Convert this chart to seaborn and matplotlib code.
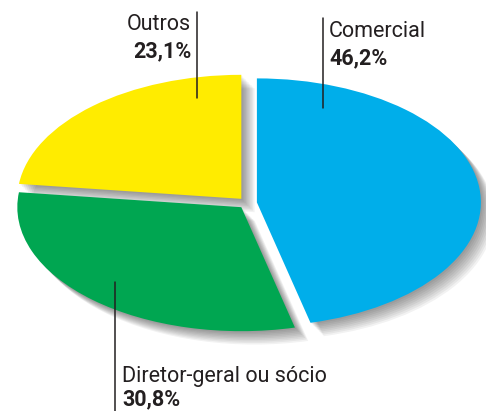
import matplotlib
matplotlib.use("Agg")
import matplotlib.pyplot as plt
from matplotlib import font_manager
import seaborn as sns

categories = ["Comercial", "Diretor-geral ou sócio", "Outros"]
values = [46.2, 30.8, 23.1]
pct_labels = ["46,2%", "30,8%", "23,1%"]
colors = ["#00AEEA", "#00A651", "#FFEC00"]
explode = [0.04, 0.045, 0.045]

sns.set_theme(style="white")
avail = {f.name for f in font_manager.fontManager.ttflist}
fam = None
for cand in ["Liberation Sans Narrow", "DejaVu Sans Condensed", "Roboto", "Open Sans", "DejaVu Sans"]:
    if cand in avail:
        fam = cand
        break
plt.rcParams["font.family"] = [fam, "DejaVu Sans"]

W, H = 486, 411
fig = plt.figure(figsize=(W / 100, H / 100), dpi=100)
fig.patch.set_facecolor("white")
ax = fig.add_axes([0, 0, 1, 1])
ax.set_facecolor("white")

cx, cy = 248, 203
rx, ry = 224, 124

# soft shadow layers
for k in range(1, 10):
    off = k * 0.006
    ax.pie(values, explode=explode, startangle=90, counterclock=False,
           colors=["#000000"] * 3, center=(off * 1.1, -off * 2.0),
           wedgeprops=dict(alpha=0.05, linewidth=0))
ax.pie(values, explode=explode, startangle=90, counterclock=False,
       colors=colors, wedgeprops=dict(linewidth=0))

ax.set_aspect("auto")
ax.set_xlim(-cx / rx, (W - cx) / rx)
ax.set_ylim(-(H - cy) / ry, cy / ry)
ax.axis("off")

tc = "#231F20"
fs = 15.5

def px(x, y):
    return x / W, 1 - y / H

# leader lines
for (x, y0, y1) in [(197, 12, 98), (323, 18, 108), (115, 282, 411)]:
    fig.add_artist(plt.Line2D([x / W, x / W], [1 - y0 / H, 1 - y1 / H],
                              color=tc, lw=1.1))

fig.text(*px(191, 30), categories[2], ha="right", va="baseline", fontsize=fs, color=tc)
fig.text(*px(191, 57), pct_labels[2], ha="right", va="baseline", fontsize=fs,
         fontweight="bold", color=tc)
fig.text(*px(329, 37), categories[0], ha="left", va="baseline", fontsize=fs, color=tc)
fig.text(*px(329, 64), pct_labels[0], ha="left", va="baseline", fontsize=fs,
         fontweight="bold", color=tc)
fig.text(*px(122, 382), categories[1], ha="left", va="baseline", fontsize=fs, color=tc)
fig.text(*px(122, 405), pct_labels[1], ha="left", va="baseline", fontsize=fs,
         fontweight="bold", color=tc)

fig.savefig("out.png", dpi=100, facecolor="white")
